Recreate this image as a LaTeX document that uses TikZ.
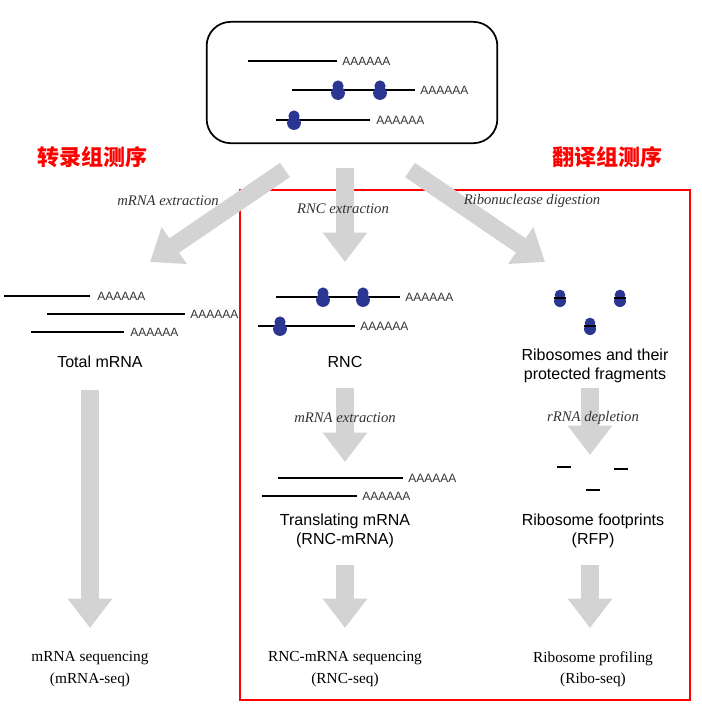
\documentclass[tikz,border=0pt]{standalone}
\usepackage{fontspec}
\setmainfont{Liberation Serif}
\newfontfamily\sansf{Liberation Sans}
\newfontfamily\cjk{Noto Sans CJK SC}
\usetikzlibrary{arrows.meta}
\definecolor{ribo}{HTML}{2B3592}
\definecolor{arr}{HTML}{D3D3D3}
\begin{document}
\begin{tikzpicture}[x=0.75pt,y=-0.75pt,
  rna/.style={line width=1.3pt,black},
  polyA/.style={anchor=west,inner sep=0,font=\sansf\fontsize{9}{9}\selectfont,text=black!80},
  lab/.style={font=\sansf\fontsize{12}{14}\selectfont,align=center,inner sep=0},
  steplab/.style={font=\itshape\fontsize{11}{12}\selectfont,text=black!80,inner sep=0},
  fin/.style={font=\fontsize{11.5}{16}\selectfont,align=center,inner sep=0},
  cn/.style={font=\cjk\bfseries\fontsize{16.5}{18}\selectfont,text=red,inner sep=0},
  big/.style={line width=13pt,arr,-{Triangle[width=32pt,length=22pt]}},
  pics/ribo/.style={code={
    \fill[ribo] (0,-4) circle[radius=4.2pt];
    \fill[ribo] (0,3) circle[radius=5.2pt];}},
  pics/ribof/.style={code={
    \fill[ribo] (0,-3) circle[radius=4pt];
    \fill[ribo] (0,3) circle[radius=4.5pt];
    \draw[line width=1pt] (-6,0)--(6,0);}},
  fpdash/.style={line width=1.3pt}]
\useasboundingbox (0,0) rectangle (702,704);
% top box
\node[draw,line width=1.3pt,rounded corners=18pt,minimum width=218pt,minimum height=91pt] (top) at (352,82.5) {};
\draw[rna] (248,61)--(337,61); \node[polyA] (ta1) at (342,61) {AAAAAA};
\draw[rna] (292,90)--(415,90); \node[polyA] (ta2) at (420,90) {AAAAAA};
\pic at (338,90) {ribo}; \pic at (380,90) {ribo};
\draw[rna] (276,120)--(370,120); \node[polyA] (ta3) at (376,120) {AAAAAA};
\pic at (294,120) {ribo};
% chinese
\node[cn] (cnL) at (92,157) {转录组测序};
\node[cn] (cnR) at (607,157) {翻译组测序};
% red frame
\draw[red,line width=1.5pt] (240,190) rectangle (690,700);
% big arrows
\coordinate (aL0) at (285,170); \coordinate (aL1) at (150,262);
\coordinate (aM0) at (345,168); \coordinate (aM1) at (345,262);
\coordinate (aR0) at (410,170); \coordinate (aR1) at (545,262);
\draw[big] (aL0)--(aL1);
\draw[big] (aM0)--(aM1);
\draw[big] (aR0)--(aR1);
\node[steplab] (s1) at (168,201) {mRNA extraction};
\node[steplab] (s2) at (343,209) {RNC extraction};
\node[steplab] (s3) at (532,201) {Ribonuclease digestion};
% left column
\draw[rna] (4,296)--(90,296); \node[polyA] (la1) at (97,296) {AAAAAA};
\draw[rna] (47,314)--(185,314); \node[polyA] (la2) at (190,314) {AAAAAA};
\draw[rna] (31,332)--(124,332); \node[polyA] (la3) at (130,332) {AAAAAA};
\node[lab] (tot) at (100,362) {Total mRNA};
% middle column
\draw[rna] (276,297)--(400,297); \node[polyA] (ma1) at (405,297) {AAAAAA};
\pic at (323,297) {ribo}; \pic at (363,297) {ribo};
\draw[rna] (258,326)--(355,326); \node[polyA] (ma2) at (360,326) {AAAAAA};
\pic at (280,326) {ribo};
\node[lab] (rnc) at (345,362) {RNC};
% right column
\pic at (560,298) {ribof}; \pic at (620,298) {ribof}; \pic at (590,326) {ribof};
\node[lab] (rib) at (595,366) {Ribosomes and their\\protected fragments};
% vertical arrows
\coordinate (vL0) at (90,390); \coordinate (vL1) at (90,628);
\coordinate (vM0) at (345,388); \coordinate (vM1) at (345,462);
\coordinate (vR0) at (590,388); \coordinate (vR1) at (590,455);
\coordinate (wM0) at (345,565); \coordinate (wM1) at (345,628);
\coordinate (wR0) at (590,565); \coordinate (wR1) at (590,628);
\draw[big] (vL0)--(vL1);
\draw[big] (vM0)--(vM1);
\draw[big] (vR0)--(vR1);
\draw[big] (wM0)--(wM1);
\draw[big] (wR0)--(wR1);
\node[steplab] (s4) at (345,418) {mRNA extraction};
\node[steplab] (s5) at (593,418) {rRNA depletion};
% translating mRNA
\draw[rna] (278,478)--(403,478); \node[polyA] (ta4) at (408,478) {AAAAAA};
\draw[rna] (262,496)--(357,496); \node[polyA] (ta5) at (362,496) {AAAAAA};
\node[lab] (trm) at (345,531) {Translating mRNA\\(RNC-mRNA)};
% footprints
\draw[fpdash] (557,467)--(571,467);
\draw[fpdash] (614,469)--(628,469);
\draw[fpdash] (586,490)--(600,490);
\node[lab] (rfp) at (593,531) {Ribosome footprints\\(RFP)};
% final
\node[fin] (f1) at (90,669) {mRNA sequencing\\(mRNA-seq)};
\node[fin] (f2) at (345,669) {RNC-mRNA sequencing\\(RNC-seq)};
\node[fin] (f3) at (593,669) {Ribosome profiling\\(Ribo-seq)};
\end{tikzpicture}
\end{document}
